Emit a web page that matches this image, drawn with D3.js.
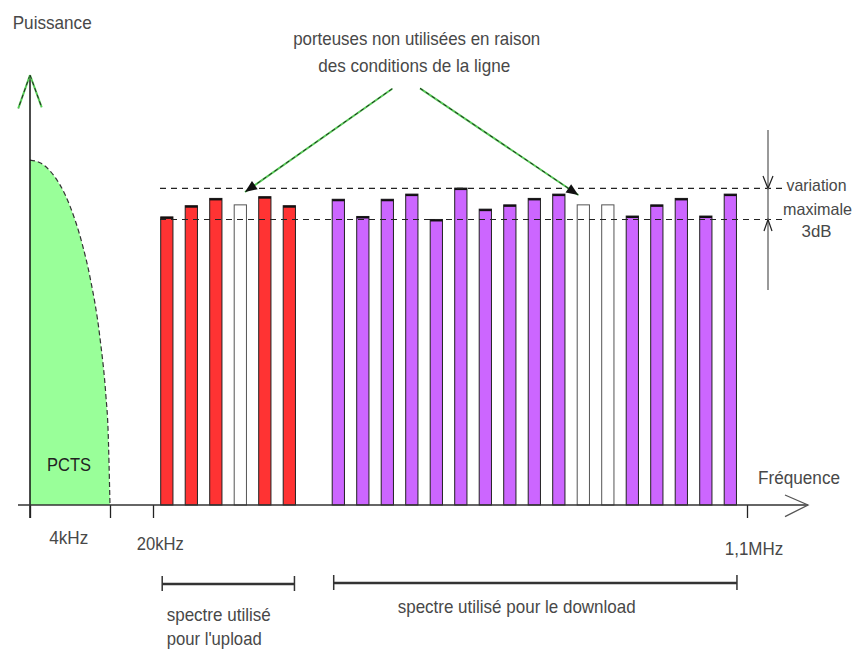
<!DOCTYPE html>
<html>
<head>
<meta charset="utf-8">
<script src="https://cdn.jsdelivr.net/npm/d3@7"></script>
<style>
  html, body { margin: 0; padding: 0; background: #fff; }
  svg { display: block; }
  text { font-family: "Liberation Sans", Arial, sans-serif; fill: #484848; }
</style>
</head>
<body>
<svg id="chart" width="857" height="651"></svg>
<script>
// ---------------- DATA ----------------
// carrier index (0..23), slot 6 is the guard gap between upload and download
const uploadCarriers   = [0, 1, 2, 3, 4, 5];
const uploadPower      = [67.0, 69.6, 71.3, 69.8, 71.7, 69.6];
const uploadUsed       = [true, true, true, false, true, true];

const downloadCarriers = [7, 8, 9, 10, 11, 12, 13, 14, 15, 16, 17, 18, 19, 20, 21, 22, 23];
const downloadPower    = [71.1, 67.1, 71.1, 72.3, 66.4, 73.7, 68.8, 69.8, 71.3, 72.3, 69.8, 69.8, 67.2, 69.8, 71.3, 67.2, 72.3];
const downloadUsed     = [true, true, true, true, true, true, true, true, true, true, false, false, true, true, true, true, true];

// PCTS (voice band) spectrum, kHz vs power
const pctsFreq  = [0, 0.5, 1, 2, 2.6, 3, 3.5, 3.8, 3.9, 4];
const pctsPower = [80.2, 79.6, 77.7, 69.5, 60.9, 53.0, 38.8, 25.1, 17.9, 0];

const maxLevel = 73.65;   // upper dashed line
const minLevel = 66.4;    // lower dashed line (max - 3 dB)

const freqTickValues = [0, 4, 20, 1100];            // kHz
const freqTickLabels = ["", "4kHz", "20kHz", "1,1MHz"];

// ---------------- SCALES ----------------
const svg = d3.select("#chart");
const baseY = 505;
const y = d3.scaleLinear().domain([0, 100]).range([baseY, 75]);
const xf = d3.scaleLinear().domain([0, 4, 20, 1100]).range([30, 110, 153, 747]);
const xb = d3.scaleBand().domain(d3.range(24)).range([160.7, 736.45]).paddingInner(0.5).paddingOuter(0);
const bw = xb.bandwidth();

function txt(str, x, yy, len, opts = {}) {
  const t = svg.append("text").attr("x", x).attr("y", yy)
    .attr("text-anchor", opts.anchor || "middle")
    .attr("font-size", opts.size || 18.5)
    .text(str);
  if (len) t.attr("textLength", len).attr("lengthAdjust", "spacingAndGlyphs");
  if (opts.fill) t.style("fill", opts.fill);
  return t;
}

// ---------------- PCTS area ----------------
const pcts = pctsFreq.map((f, i) => [f, pctsPower[i]]);
svg.append("path")
  .datum(pcts)
  .attr("d", d3.area().x(d => xf(d[0])).y0(baseY).y1(d => y(d[1])).curve(d3.curveMonotoneX))
  .attr("fill", "#99ff99");
svg.append("path")
  .datum(pcts)
  .attr("d", d3.line().x(d => xf(d[0])).y(d => y(d[1])).curve(d3.curveMonotoneX))
  .attr("fill", "none").attr("stroke", "#333").attr("stroke-width", 1.2).attr("stroke-dasharray", "5,3");
txt("PCTS", xf(1.95), 471, 44, { size: 19, fill: "#222" });

// ---------------- bars ----------------
function drawBars(carriers, power, used, color) {
  const data = carriers.map((c, i) => ({ c, p: power[i], u: used[i] }));
  const g = svg.append("g");
  g.selectAll("rect").data(data).join("rect")
    .attr("x", d => xb(d.c)).attr("width", bw)
    .attr("y", d => y(d.p)).attr("height", d => baseY - y(d.p))
    .attr("fill", d => d.u ? color : "#fff")
    .attr("stroke", d => d.u ? "#222" : "#555")
    .attr("stroke-width", 1);
  g.selectAll("line").data(data.filter(d => d.u)).join("line")
    .attr("x1", d => xb(d.c)).attr("x2", d => xb(d.c) + bw)
    .attr("y1", d => y(d.p) + 1).attr("y2", d => y(d.p) + 1)
    .attr("stroke", "#111").attr("stroke-width", 2);
}
drawBars(uploadCarriers, uploadPower, uploadUsed, "#ff3333");
drawBars(downloadCarriers, downloadPower, downloadUsed, "#cc66ff");

// ---------------- dashed level lines ----------------
[maxLevel, minLevel].forEach(l => {
  svg.append("line").attr("x1", 160).attr("x2", 785)
    .attr("y1", y(l)).attr("y2", y(l))
    .attr("stroke", "#222").attr("stroke-width", 1.2).attr("stroke-dasharray", "6,5");
});

// variation marker on right
svg.append("line").attr("x1", 768).attr("x2", 768).attr("y1", 130).attr("y2", 290)
  .attr("stroke", "#999").attr("stroke-width", 2);
svg.append("path").attr("d", `M763,176 L768,${y(maxLevel)} L773,176`).attr("fill", "none").attr("stroke", "#222").attr("stroke-width", 1.2);
svg.append("path").attr("d", `M764,231 L768,${y(minLevel)} L772,231`).attr("fill", "none").attr("stroke", "#222").attr("stroke-width", 1.2);
txt("variation", 816.5, 191, 60, { size: 17 });
txt("maximale", 817.5, 215, 69, { size: 16.5 });
txt("3dB", 816.5, 237, 30, { size: 17 });

// ---------------- axes ----------------
// vertical axis
svg.append("line").attr("x1", 30).attr("x2", 30).attr("y1", 75).attr("y2", 518)
  .attr("stroke", "#111").attr("stroke-width", 1.5);
function greenLine(x1, y1, x2, y2) {
  svg.append("line").attr("x1", x1).attr("y1", y1).attr("x2", x2).attr("y2", y2)
    .attr("stroke", "#55cc55").attr("stroke-width", 2);
  svg.append("line").attr("x1", x1).attr("y1", y1).attr("x2", x2).attr("y2", y2)
    .attr("stroke", "#222").attr("stroke-width", 1).attr("stroke-dasharray", "4,3");
}
greenLine(30, 75, 18.3, 108.3);
greenLine(30, 75, 41.7, 107.3);

// horizontal axis
const xAxis = d3.axisBottom(xf).tickValues(freqTickValues).tickFormat("").tickSizeOuter(0).tickSizeInner(13);
const gx = svg.append("g").attr("transform", `translate(0,${baseY})`).call(xAxis);
gx.select(".domain").remove();
gx.selectAll(".tick line").attr("stroke", "#222").attr("stroke-width", 1.3);
svg.append("line").attr("x1", 18).attr("x2", 808).attr("y1", baseY).attr("y2", baseY)
  .attr("stroke", "#333").attr("stroke-width", 1.5);
svg.append("path").attr("d", "M785,495 L808,505 L785,516.7").attr("fill", "none").attr("stroke", "#555").attr("stroke-width", 1.3);

// tick labels
const tickLabelPos = [null, [68.8, 544, 39], [160.3, 550, 47], [754, 555, 58.5]];
freqTickLabels.forEach((l, i) => {
  if (!l) return;
  const p = tickLabelPos[i];
  txt(l, p[0], p[1], p[2]);
});

txt("Puissance", 52.2, 29, 79);
txt("Fréquence", 799, 484, 82, { size: 17.5 });

// ---------------- annotation ----------------
txt("porteuses non utilisées en raison", 416.7, 45, 247);
txt("des conditions de la ligne", 414.2, 72, 192);

function annotArrow(x1, y1, x2, y2) {
  greenLine(x1, y1, x2, y2);
  const a = Math.atan2(y2 - y1, x2 - x1);
  const L = 12, W = 5;
  const bx = x2 - L * Math.cos(a), by = y2 - L * Math.sin(a);
  const p1 = [bx + W * Math.sin(a), by - W * Math.cos(a)];
  const p2 = [bx - W * Math.sin(a), by + W * Math.cos(a)];
  svg.append("path").attr("d", `M${x2},${y2} L${p1} L${p2} Z`).attr("fill", "#111");
}
annotArrow(392.3, 88.7, 245, 192);
annotArrow(420, 88.3, 578.3, 195);

// ---------------- spectrum brackets ----------------
function bracket(x1, x2, yy) {
  svg.append("line").attr("x1", x1).attr("x2", x2).attr("y1", yy).attr("y2", yy)
    .attr("stroke", "#333").attr("stroke-width", 2.5);
  [x1, x2].forEach(x => svg.append("line").attr("x1", x).attr("x2", x).attr("y1", yy - 8).attr("y2", yy + 7)
    .attr("stroke", "#333").attr("stroke-width", 1.5));
}
bracket(xb(uploadCarriers[0]) + 1.5, xb(uploadCarriers[uploadCarriers.length - 1]) + bw - 1, 584);
bracket(xb(downloadCarriers[0]) + 1.5, xb(downloadCarriers[downloadCarriers.length - 1]) + bw + 0.5, 583);

txt("spectre utilisé", 166.7, 621, 104, { anchor: "start" });
txt("pour l'upload", 166.7, 645, 95, { anchor: "start" });
txt("spectre utilisé pour le download", 516.7, 613, 238);
</script>
</body>
</html>
